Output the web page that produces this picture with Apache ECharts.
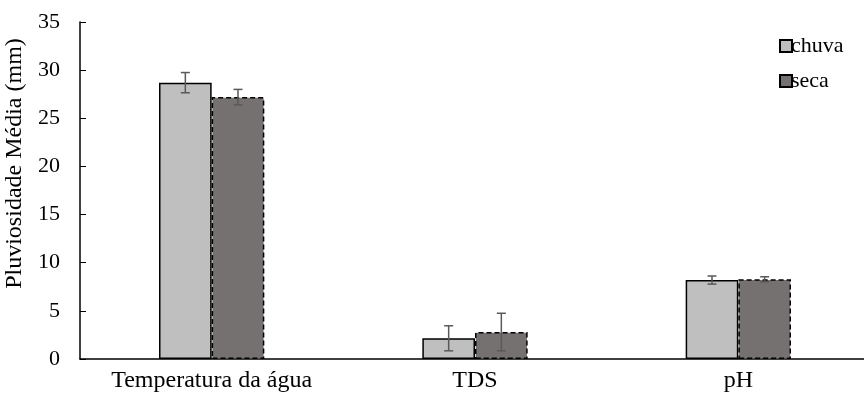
<!DOCTYPE html>
<html>
<head>
<meta charset="utf-8">
<script src="https://cdn.jsdelivr.net/npm/echarts@6/dist/echarts.min.js"></script>
<style>
html,body{margin:0;padding:0;background:#fff;}
#chart{width:864px;height:394px;}
</style>
</head>
<body>
<div id="chart"></div>
<script>
const categories = ['Temperatura da água', 'TDS', 'pH'];
const chuva = [28.7, 2.15, 8.2];
const seca = [27.2, 2.8, 8.28];
const chuvaErr = [1.05, 1.3, 0.42];
const seca_err = [0.8, 1.95, 0.26];
const yTicks = [0, 5, 10, 15, 20, 25, 30, 35];

const FONT = '"Liberation Serif", "Times New Roman", serif';
const BAR_FRAC = 0.2;

function errSeries(name, vals, errs, side) {
  const data = vals.map((v, i) => [i, v - errs[i], v + errs[i]]);
  return {
    type: 'custom',
    name: name + '_err',
    z: 10,
    data: data,
    renderItem: function (params, api) {
      const idx = api.value(0);
      const lo = api.coord([idx, api.value(1)]);
      const hi = api.coord([idx, api.value(2)]);
      const band = api.size([1, 0])[0];
      const x = lo[0] + side * band * BAR_FRAC / 2;
      const cap = 4.5;
      const style = { stroke: '#595959', lineWidth: 1.5, fill: null };
      return {
        type: 'group',
        children: [
          { type: 'line', shape: { x1: x, y1: lo[1], x2: x, y2: hi[1] }, style: style },
          { type: 'line', shape: { x1: x - cap, y1: lo[1], x2: x + cap, y2: lo[1] }, style: style },
          { type: 'line', shape: { x1: x - cap, y1: hi[1], x2: x + cap, y2: hi[1] }, style: style }
        ]
      };
    }
  };
}

const chart = echarts.init(document.getElementById('chart'));
chart.setOption({
  animation: false,
  textStyle: { fontFamily: FONT },
  grid: { left: 80, right: -6, top: 22, bottom: 35, containLabel: false, outerBoundsMode: 'none' },
  legend: {
    data: ['chuva', 'seca'],
    orient: 'vertical',
    left: 774,
    top: 30,
    icon: 'rect',
    itemWidth: 12,
    itemHeight: 12,
    itemGap: 13,
    textStyle: { fontFamily: FONT, fontSize: 22, color: '#000', padding: [0, 0, 0, -6] }
  },
  xAxis: {
    type: 'category',
    data: categories,
    axisLine: { lineStyle: { color: '#000', width: 1.5 } },
    axisTick: { show: false },
    axisLabel: { fontFamily: FONT, fontSize: 24, color: '#000', margin: 10 }
  },
  yAxis: {
    type: 'value',
    min: 0,
    max: 35,
    interval: 5,
    name: 'Pluviosidade Média (mm)',
    nameLocation: 'middle',
    nameGap: 46,
    nameTextStyle: { fontFamily: FONT, fontSize: 24, color: '#000', padding: [0, 0, 0, 54] },
    axisLine: { show: true, lineStyle: { color: '#000', width: 1.5 } },
    axisTick: { show: true, inside: true, length: 6, lineStyle: { color: '#000' } },
    splitLine: { show: false },
    axisLabel: {
      fontFamily: FONT, fontSize: 22, color: '#000', margin: 20,
      formatter: function (v) { return yTicks.indexOf(v) >= 0 ? String(v) : ''; }
    }
  },
  series: [
    {
      name: 'chuva', type: 'bar', data: chuva,
      barWidth: '20%', barGap: '0%',
      itemStyle: { color: '#bfbfbf', borderColor: '#000', borderWidth: 1.5 }
    },
    {
      name: 'seca', type: 'bar', data: seca,
      barWidth: '20%',
      itemStyle: { color: '#767171', borderColor: '#000', borderWidth: 1.5, borderType: [5, 3] }
    },
    errSeries('chuva', chuva, chuvaErr, -1),
    errSeries('seca', seca, seca_err, 1)
  ]
});
</script>
</body>
</html>
